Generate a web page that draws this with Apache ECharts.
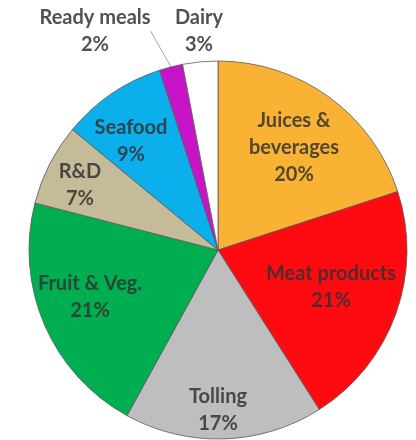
<!DOCTYPE html>
<html><head><meta charset="utf-8">
<script src="https://cdn.jsdelivr.net/npm/echarts@6/dist/echarts.min.js"></script>
<style>html,body{margin:0;padding:0;background:#fff}#c{width:416px;height:440px}</style>
</head><body><div id="c"></div>
<script>
// Data
const categories = ['Juices & beverages', 'Meat products', 'Tolling', 'Fruit & Veg.', 'R&D', 'Seafood', 'Ready meals', 'Dairy'];
const shares = [20, 21, 17, 21, 7, 9, 2, 3];

// Styles / layout (kept apart from data)
const colors = ['#F9B233', '#FE0A10', '#BEBEBE', '#00AE52', '#C6BB98', '#0AAFEB', '#C814C8', '#FFFFFF'];
const labelLines = {'Juices & beverages': 'Juices &\nbeverages'};
const outsideLabel = [false, false, false, false, false, false, true, true];
const showLeader = [false, false, false, false, false, false, true, false];
const labelPos = [[294, 148], [331, 287], [218, 410], [90, 297], [80, 185], [131, 141], [95, 31], [199, 31]];

const chart = echarts.init(document.getElementById('c'), null, {renderer: 'canvas'});
const data = categories.map((name, i) => ({
  name: name,
  value: shares[i],
  itemStyle: {color: colors[i]},
  label: {position: outsideLabel[i] ? 'outside' : 'inside'},
  labelLine: {show: showLeader[i], length: 12, length2: 0, lineStyle: {color: '#a8a8a8', width: 1}}
}));

chart.setOption({
  animation: false,
  backgroundColor: '#ffffff',
  series: [{
    type: 'pie',
    center: [218, 250],
    radius: 189,
    startAngle: 90,
    clockwise: true,
    avoidLabelOverlap: false,
    data: data,
    itemStyle: {borderColor: '#5a5a5a', borderWidth: 0.8},
    emphasis: {disabled: true},
    label: {
      show: true,
      formatter: p => (labelLines[p.name] || p.name) + '\n' + p.value + '%',
      fontFamily: 'Lato',
      fontWeight: 'bold',
      fontSize: 20,
      lineHeight: 27,
      color: 'rgba(50,50,50,0.85)',
      align: 'center'
    },
    labelLayout: function (params) {
      const p = labelPos[params.dataIndex];
      return {x: p[0], y: p[1], align: 'center', verticalAlign: 'middle'};
    }
  }]
});
</script>
</body></html>
